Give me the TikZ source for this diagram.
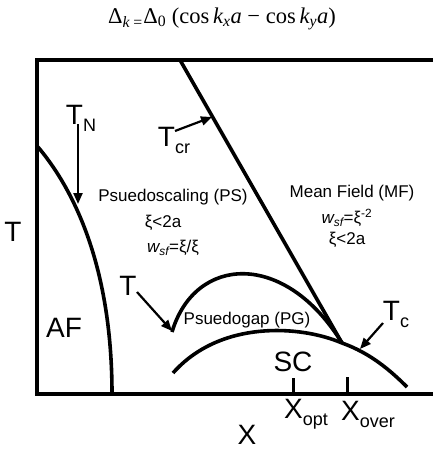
\documentclass[tikz,border=0pt]{standalone}
\usepackage{fontspec}
\setmainfont{Liberation Sans}
\newfontfamily\formulafont{Liberation Serif}
\usetikzlibrary{arrows.meta}
\newcommand{\lowlbl}[1]{{\fontsize{18}{18}\selectfont\raisebox{-7pt}{#1}}}
\newcommand{\wsf}{{\itshape w}\textsubscript{\itshape sf}}
\begin{document}
\begin{tikzpicture}[x=1pt, y=-1pt,
		curve/.style={line width=3.6pt},
		pointer/.style={line width=2.2pt, -{Triangle[length=11pt, width=9pt]}},
		biglabel/.style={inner sep=0pt, font=\fontsize{28}{28}\selectfont},
		smalltext/.style={inner sep=0pt, font=\fontsize{17}{17}\selectfont},
	]
	\useasboundingbox (0,0) rectangle (433,450);

	\node[inner sep=0pt, font=\formulafont\fontsize{22.5}{22.5}\selectfont] (gap) at (222, 19)
		{Δ\textsubscript{\itshape k\,=}Δ\textsubscript{0} (cos\,{\itshape k}\textsubscript{\itshape x}{\itshape a} − cos\,{\itshape k}\textsubscript{\itshape y}{\itshape a})};

	% frame
	\draw[line width=4pt] (433,60) -- (37,60) -- (37,394) -- (433,394);

	% phase lines
	\draw[curve] (38,147) .. controls (70,185) and (112,260) .. (112,394);
	\draw[curve] (180,60) -- (342,343);
	\draw[curve] (172,332) .. controls (195,255) and (285,250) .. (342,343);
	\draw[curve] (173,373) .. controls (220,320) and (300,325) .. (342,343)
		.. controls (370,353) and (390,370) .. (407,387);

	% ticks
	\draw[line width=3pt] (293,378) -- (293,394);
	\draw[line width=3pt] (347,377) -- (347,394);

	% labels
	\node[biglabel] (tlabel) at (13,232) {T};
	\node[biglabel] (af) at (64,328) {AF};
	\node[biglabel] (sc) at (293,362) {SC};
	\node[biglabel] (xlabel) at (247,435) {X};
	\node[biglabel] (tn) at (81,118) {T\lowlbl{N}};
	\node[biglabel] (tcr) at (174,140) {T\lowlbl{cr}};
	\node[biglabel] (tpg) at (128,286) {T};
	\node[biglabel] (tc) at (396,314) {T\lowlbl{c}};
	\node[biglabel] (xopt) at (306,414) {X\lowlbl{opt}};
	\node[biglabel] (xover) at (368,414) {X\lowlbl{over}};

	\node[smalltext] (ps) at (173,197) {Psuedoscaling (PS)};
	\node[smalltext] (psxi) at (163,223) {ξ<2a};
	\node[smalltext] (psw) at (173,248) {\wsf=ξ/ξ};
	\node[smalltext] (mf) at (352,193) {Mean Field (MF)};
	\node[smalltext] (mfw) at (347,218) {\wsf=ξ\textsuperscript{-2}};
	\node[smalltext] (mfxi) at (347,240) {ξ<2a};
	\node[smalltext] (pg) at (247,320) {Psuedogap (PG)};

	% arrows
	\coordinate (tnStart) at (78,124);
	\coordinate (tnTip) at (78,204);
	\coordinate (tcrStart) at (175,131);
	\coordinate (tcrTip) at (212,117);
	\coordinate (tpgStart) at (137,292);
	\coordinate (tpgTip) at (172,331);
	\coordinate (tcStart) at (383,323);
	\coordinate (tcTip) at (360,349);
	\draw[pointer] (tnStart) -- (tnTip);
	\draw[pointer] (tcrStart) -- (tcrTip);
	\draw[pointer] (tpgStart) -- (tpgTip);
	\draw[pointer] (tcStart) -- (tcTip);
\end{tikzpicture}
\end{document}
